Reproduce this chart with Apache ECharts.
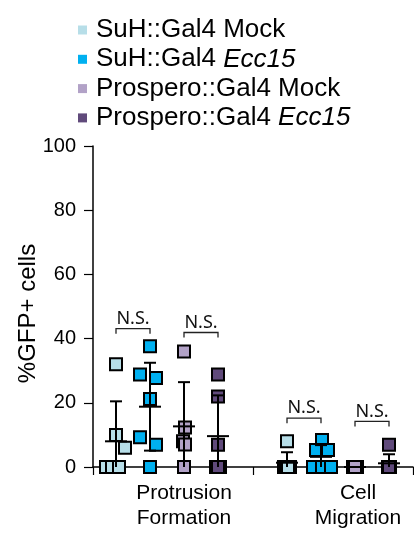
<!DOCTYPE html>
<html>
<head>
<meta charset="utf-8">
<script src="https://cdn.jsdelivr.net/npm/echarts@6/dist/echarts.min.js"></script>
<style>
html,body{margin:0;padding:0;background:#fff;}
#chart{width:414px;height:533px;}
</style>
</head>
<body>
<div id="chart"></div>
<script>
// ---- data ----
const categories = ['Protrusion\nFormation', 'Cell\nMigration'];
const seriesNames = ['SuH::Gal4 Mock', 'SuH::Gal4 Ecc15', 'Prospero::Gal4 Mock', 'Prospero::Gal4 Ecc15'];
const yTicks = [0, 20, 40, 60, 80, 100];

// values (% GFP+ cells) per genotype, per assay
const suhMockProt  = [32, 10, 6, 0, 0, 0];
const suhEccProt   = [37.6, 28.8, 27.7, 21.2, 9.3, 6.9, 0];
const prosMockProt = [36, 12.3, 8, 7, 0];
const prosEccProt  = [28.8, 22, 6.9, 0, 0, 0];

const suhMockMig   = [8, 0, 0, 0, 0, 0];
const suhEccMig    = [8.4, 5.3, 5.3, 0, 0, 0];
const prosMockMig  = [0, 0, 0, 0];
const prosEccMig   = [6.9, 0, 0, 0, 0, 0];

const nsLabel = 'N.S.';
// significance brackets: [group, first series, second series, height in % units]
const nsBrackets = [[0, 0, 1, 43.1], [0, 2, 3, 41.9], [1, 0, 1, 15.2], [1, 2, 3, 14.2]];

// ---- layout (not data) ----
const colors = ['#B7DEE8', '#00B0F0', '#B2A2C7', '#604A7B'];
const groupStart = [23, 194];   // x position (hidden value axis units) of first slot per group
const slotStep = 34;
// horizontal jitter of individual points (same order as values)
const jitterProt = [[0, 0, 9, -10, -4, 3], [0, -10, 6, 0, -10, 6, 0], [0, 1, -1, 1, 0], [0, 0, 0, -2, 2, 0]];
const jitterMig  = [[0, -3, 0, 3, -1, 1], [1, -5, 7, -8, 1, 10], [-2, 0, 2, 0], [0, -1, 1, 0, 0, 0]];

const valuesProt = [suhMockProt, suhEccProt, prosMockProt, prosEccProt];
const valuesMig = [suhMockMig, suhEccMig, prosMockMig, prosEccMig];

function slotX(g, s) { return groupStart[g] + slotStep * s; }
function meanSd(arr) {
  const n = arr.length;
  const m = arr.reduce((a, b) => a + b, 0) / n;
  const v = n > 1 ? arr.reduce((a, b) => a + (b - m) * (b - m), 0) / (n - 1) : 0;
  return [m, Math.sqrt(v)];
}

const FONT = '"Liberation Sans", Arial, sans-serif';

const series = [];
seriesNames.forEach((name, s) => {
  const pts = [];
  [valuesProt, valuesMig].forEach((vals, g) => {
    const jit = g === 0 ? jitterProt[s] : jitterMig[s];
    vals[s].forEach((v, i) => pts.push([slotX(g, s) + (jit[i] || 0), v]));
  });
  series.push({
    name: name,
    type: 'scatter',
    xAxisIndex: 1,
    yAxisIndex: 0,
    symbol: 'rect',
    symbolSize: 12,
    itemStyle: { color: colors[s], borderColor: '#000', borderWidth: 2, opacity: 1 },
    emphasis: { disabled: true },
    data: pts,
    z: 2,
    clip: false
  });
});

// error bars (mean ± SD)
const errData = [];
[valuesProt, valuesMig].forEach((vals, g) => {
  vals.forEach((arr, s) => {
    const ms = meanSd(arr);
    errData.push([slotX(g, s), ms[0], ms[1]]);
  });
});
series.push({
  type: 'custom',
  xAxisIndex: 1,
  yAxisIndex: 0,
  z: 4,
  silent: true,
  data: errData,
  encode: { x: 0, y: 1 },
  renderItem: function (params, api) {
    const x = api.value(0), m = api.value(1), sd = api.value(2);
    const top = api.coord([x, m + sd]);
    const mid = api.coord([x, m]);
    const lowV = m - sd;
    const low = api.coord([x, Math.max(0, lowV)]);
    const st = { stroke: '#000', lineWidth: 2 };
    const ch = [
      { type: 'line', shape: { x1: top[0], y1: top[1], x2: low[0], y2: low[1] }, style: st },
      { type: 'line', shape: { x1: top[0] - 6, y1: top[1], x2: top[0] + 6, y2: top[1] }, style: st },
      { type: 'line', shape: { x1: mid[0] - 11, y1: mid[1], x2: mid[0] + 11, y2: mid[1] }, style: st }
    ];
    if (lowV > 0) {
      ch.push({ type: 'line', shape: { x1: low[0] - 6, y1: low[1], x2: low[0] + 6, y2: low[1] }, style: st });
    }
    return { type: 'group', children: ch };
  }
});

// N.S. brackets
series.push({
  type: 'custom',
  xAxisIndex: 1,
  yAxisIndex: 0,
  z: 5,
  silent: true,
  data: nsBrackets.map(b => [slotX(b[0], b[1]), slotX(b[0], b[2]), b[3]]),
  encode: { x: [0, 1], y: 2 },
  renderItem: function (params, api) {
    const p1 = api.coord([api.value(0), api.value(2)]);
    const p2 = api.coord([api.value(1), api.value(2)]);
    return {
      type: 'group',
      children: [
        { type: 'polyline', shape: { points: [[p1[0], p1[1] + 5], [p1[0], p1[1]], [p2[0], p1[1]], [p2[0], p1[1] + 5]] },
          style: { stroke: '#222', lineWidth: 1.3, fill: null } },
        { type: 'text', x: (p1[0] + p2[0]) / 2, y: p1[1] - 1,
          style: { text: nsLabel, align: 'center', verticalAlign: 'bottom', fill: '#111', font: '18px "Noto Sans", sans-serif' } }
      ]
    };
  }
});

const chart = echarts.init(document.getElementById('chart'), null, { renderer: 'canvas' });
chart.setOption({
  animation: false,
  backgroundColor: '#fff',
  legend: {
    orient: 'vertical',
    left: 73,
    top: 12,
    icon: 'rect',
    itemWidth: 9,
    itemHeight: 9,
    itemGap: 3.3,
    selectedMode: false,
    data: seriesNames.map((n, i) => ({ name: n, itemStyle: { color: colors[i], borderWidth: 0 } })),
    formatter: function (name) {
      const m = name.match(/^(.*) (Ecc15)$/);
      if (m) return '{n|' + m[1] + ' }{i|' + m[2] + '}';
      return '{n|' + name + '}';
    },
    textStyle: {
      padding: [0, 0, 0, 4],
      rich: {
        n: { fontSize: 26, lineHeight: 26, fontFamily: FONT, color: '#000' },
        i: { fontSize: 26, lineHeight: 26, fontFamily: FONT, color: '#000', fontStyle: 'italic' }
      }
    }
  },
  grid: { left: 93, right: 1, top: 146, bottom: 66, containLabel: false },
  xAxis: [
    {
      type: 'category',
      data: categories,
      boundaryGap: true,
      axisLine: { show: true, lineStyle: { color: '#000', width: 1.5 } },
      axisTick: { show: true, length: 8, lineStyle: { color: '#000', width: 1.2 } },
      axisLabel: {
        margin: 14,
        formatter: function (v, idx) {
          const k = idx === 0 ? 'a' : 'b';
          return v.split('\n').map(t => '{' + k + '|' + t + '}').join('\n');
        },
        rich: {
          a: { fontSize: 21, lineHeight: 25, fontFamily: FONT, color: '#000', padding: [0, 0, 0, 22] },
          b: { fontSize: 21, lineHeight: 25, fontFamily: FONT, color: '#000', padding: [0, 0, 0, 50] }
        }
      },
      splitLine: { show: false }
    },
    {
      type: 'value',
      min: 0,
      max: 320,
      show: false
    }
  ],
  yAxis: {
    type: 'value',
    min: yTicks[0],
    max: yTicks[yTicks.length - 1],
    interval: yTicks[1] - yTicks[0],
    name: '%GFP+ cells',
    nameLocation: 'middle',
    nameGap: 53,
    nameMoveOverlap: false,
    nameTextStyle: { fontSize: 24, fontFamily: FONT, color: '#000', padding: [0, 14, 0, 0] },
    axisLine: { show: true, lineStyle: { color: '#000', width: 1.5 } },
    axisTick: { show: true, length: 9, lineStyle: { color: '#000', width: 1.2 } },
    axisLabel: { fontSize: 20, fontFamily: FONT, color: '#000', margin: 17 },
    splitLine: { show: false }
  },
  series: series
});
</script>
</body>
</html>
